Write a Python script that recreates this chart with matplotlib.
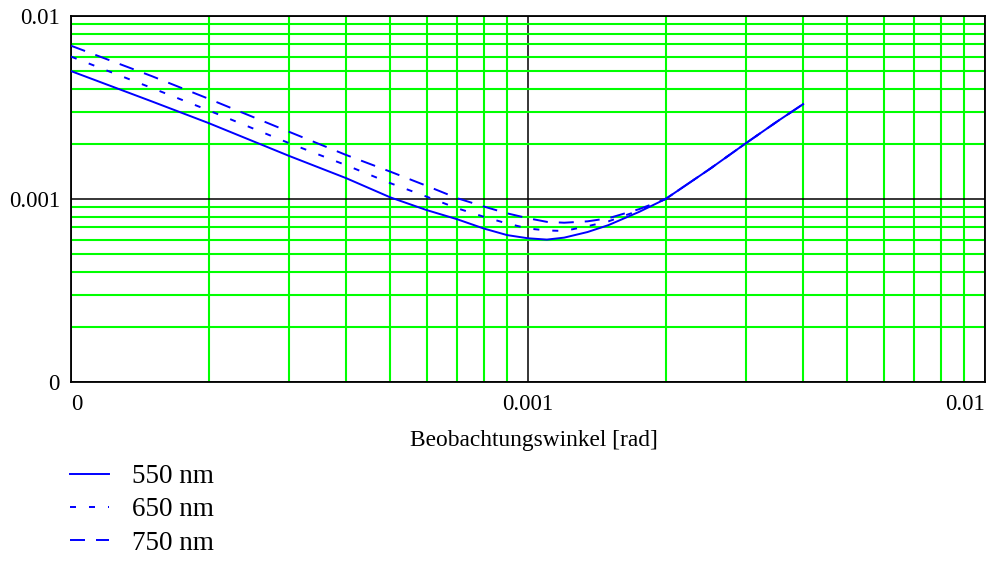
import matplotlib
matplotlib.use("Agg")
import matplotlib.pyplot as plt
from matplotlib.ticker import LogLocator, NullFormatter

plt.rcParams['font.family'] = ['Liberation Serif', 'DejaVu Serif']
plt.rcParams['lines.scale_dashes'] = False

# Observation angle [rad]
angle = [1e-4, 1.5e-4, 2e-4, 3e-4, 4e-4, 5e-4, 6e-4, 7e-4, 8e-4, 9e-4,
         1e-3, 1.1e-3, 1.2e-3, 1.35e-3, 1.5e-3, 1.75e-3, 2e-3, 2.5e-3,
         3e-3, 3.5e-3, 4e-3]

y_550 = [5.0e-3, 3.42e-3, 2.6e-3, 1.72e-3, 1.3e-3, 1.02e-3, 8.7e-4, 7.75e-4,
         6.9e-4, 6.35e-4, 6.1e-4, 6.0e-4, 6.15e-4, 6.6e-4, 7.2e-4, 8.5e-4,
         1.0e-3, 1.46e-3, 2.02e-3, 2.64e-3, 3.3e-3]
y_650 = [6.0e-3, 4.05e-3, 3.05e-3, 2.02e-3, 1.53e-3, 1.22e-3, 1.03e-3, 8.9e-4,
         8.0e-4, 7.35e-4, 6.9e-4, 6.73e-4, 6.69e-4, 7.1e-4, 7.55e-4, 8.65e-4,
         1.0e-3, 1.46e-3, 2.02e-3, 2.64e-3, 3.3e-3]
y_750 = [6.88e-3, 4.7e-3, 3.53e-3, 2.33e-3, 1.74e-3, 1.41e-3, 1.18e-3, 1.01e-3,
         9.1e-4, 8.35e-4, 7.85e-4, 7.5e-4, 7.42e-4, 7.55e-4, 7.85e-4, 8.8e-4,
         1.0e-3, 1.46e-3, 2.02e-3, 2.64e-3, 3.3e-3]

series_labels = ['550 nm', '650 nm', '750 nm']
tick_values = [1e-4, 1e-3, 1e-2]
tick_labels = ['0', '0.001', '0.01']
xlabel = 'Beobachtungswinkel [rad]'

PX = 0.72  # points per pixel at dpi 100

fig = plt.figure(figsize=(9.92, 5.62), dpi=100)
ax = fig.add_axes([71/992, 1-382/562, (985-71)/992, (382-16)/562])
ax.set_xscale('log')
ax.set_yscale('log')
ax.set_xlim(1e-4, 1e-2)
ax.set_ylim(1e-4, 1e-2)

blue = '#0000ff'
lw = 1.4
ax.plot(angle, y_550, color=blue, lw=lw, ls='-', label=series_labels[0], zorder=3)
ax.plot(angle, y_650, color=blue, lw=lw, ls=(0, (6*PX, 13*PX)), label=series_labels[1], zorder=3)
ax.plot(angle, y_750, color=blue, lw=lw, ls=(0, (15*PX, 11*PX)), label=series_labels[2], zorder=3)

for axis in (ax.xaxis, ax.yaxis):
    axis.set_minor_locator(LogLocator(base=10, subs=range(2, 10)))
    axis.set_minor_formatter(NullFormatter())
ax.set_xticks(tick_values, tick_labels)
ax.set_yticks(tick_values, tick_labels)
ax.tick_params(which='both', length=0)
ax.tick_params(axis='x', pad=9, labelsize=16.5)
ax.tick_params(axis='y', pad=8, labelsize=16.5)
for lbl, ha in zip(ax.get_xticklabels(), ['left', 'center', 'right']):
    lbl.set_horizontalalignment(ha)

ax.grid(True, which='minor', color='#00ff00', lw=1.5)
ax.grid(True, which='major', color='#000000', lw=1.1)
ax.set_axisbelow(True)
for sp in ax.spines.values():
    sp.set_color('black')
    sp.set_linewidth(1.3)

ax.set_xlabel(xlabel, fontsize=16.8)
ax.xaxis.set_label_coords(0.506, -0.132)

leg = ax.legend(loc='upper left', bbox_to_anchor=(70/992, 1-464/562),
                bbox_transform=fig.transFigure, frameon=False, fontsize=19.5,
                borderaxespad=0, borderpad=0, handlelength=1.45,
                handletextpad=0.85, labelspacing=0.31)

fig.savefig('out.png', dpi=100)
